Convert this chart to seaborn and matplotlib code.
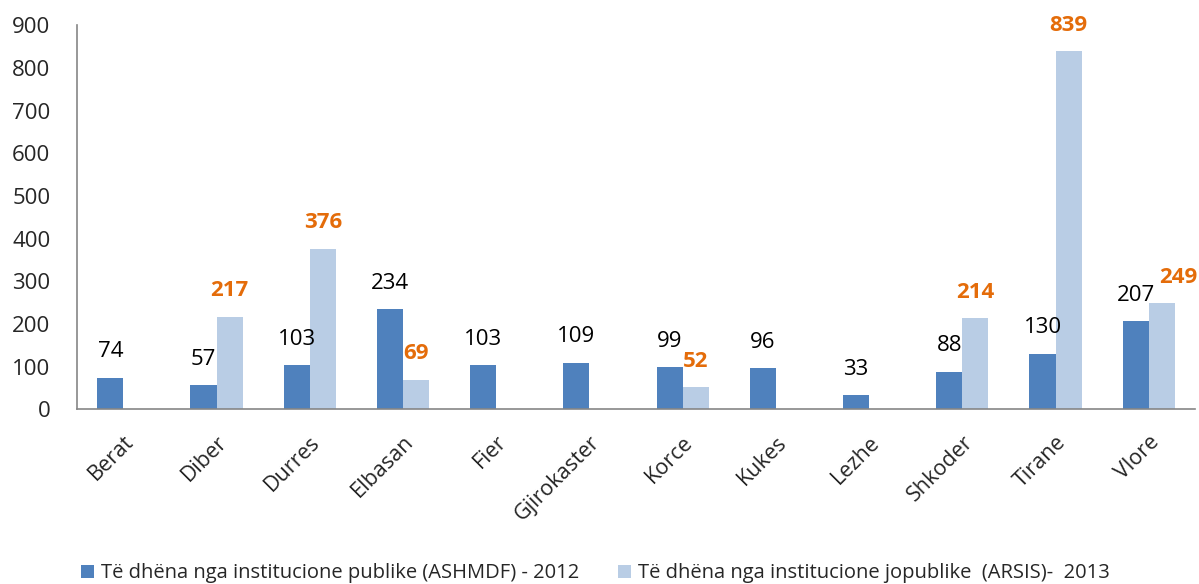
import pandas as pd
import matplotlib.pyplot as plt
import seaborn as sns

# Data
districts = ['Berat', 'Diber', 'Durres', 'Elbasan', 'Fier', 'Gjirokaster',
             'Korce', 'Kukes', 'Lezhe', 'Shkoder', 'Tirane', 'Vlore']
public_2012 = [74, 57, 103, 234, 103, 109, 99, 96, 33, 88, 130, 207]
arsis_2013 = [None, 217, 376, 69, None, None, 52, None, None, 214, 839, 249]

series_public = 'Të dhëna nga institucione publike (ASHMDF) - 2012'
series_arsis = 'Të dhëna nga institucione jopublike  (ARSIS)-  2013'

rows = []
for d, a, b in zip(districts, public_2012, arsis_2013):
    rows.append({'district': d, 'source': series_public, 'value': a})
    if b is not None:
        rows.append({'district': d, 'source': series_arsis, 'value': b})
df = pd.DataFrame(rows)

sns.set_style('white')
plt.rcParams['font.family'] = ['Open Sans', 'DejaVu Sans']

dark_blue = '#4F81BD'
light_blue = '#B9CDE5'
orange = '#E46C0A'

fig = plt.figure(figsize=(11.99, 5.84), dpi=100)
ax = fig.add_axes([0.064, 0.299, 0.933, 0.658])

sns.barplot(data=df, x='district', y='value', hue='source', order=districts,
            hue_order=[series_public, series_arsis],
            palette=[dark_blue, light_blue], width=0.56, saturation=1,
            edgecolor='none', ax=ax, legend=True)

# Data labels above the bars
for i, container in enumerate(ax.containers):
    for bar in container:
        h = bar.get_height()
        if pd.isna(h):
            continue
        x = bar.get_x() + bar.get_width() / 2
        if i == 1:
            # Vlore label nudged right in the original
            dx = 11.5 if abs(h - 249) < 0.5 else 0
            ax.annotate(f'{h:.0f}', (x, h), xytext=(dx, 18.7), textcoords='offset points',
                        ha='center', va='center', fontsize=16, color=orange,
                        fontweight='bold')
        else:
            ax.annotate(f'{h:.0f}', (x, h), xytext=(0, 18.7), textcoords='offset points',
                        ha='center', va='center', fontsize=16, color='black')

ax.set_ylim(0, 900)
ax.set_yticks(range(0, 1000, 100))
ax.set_xlabel('')
ax.set_ylabel('')
ax.tick_params(axis='y', length=0, pad=19, labelsize=16)
ax.tick_params(axis='x', length=0, pad=16, labelsize=15.5)
plt.setp(ax.get_xticklabels(), rotation=45, ha='right', rotation_mode='anchor')

for side in ['top', 'right']:
    ax.spines[side].set_visible(False)
for side in ['left', 'bottom']:
    ax.spines[side].set_color('#868686')
    ax.spines[side].set_linewidth(1.2)

handles, labels = ax.get_legend_handles_labels()
ax.legend_.remove()
fig.legend(handles, labels, loc='center left', bbox_to_anchor=(0.0676, 0.018), ncol=2,
           frameon=False, fontsize=14.5, handlelength=0.65, handleheight=0.65,
           handletextpad=0.35, columnspacing=1.9, borderpad=0, borderaxespad=0)

fig.savefig('out.png', dpi=100)
